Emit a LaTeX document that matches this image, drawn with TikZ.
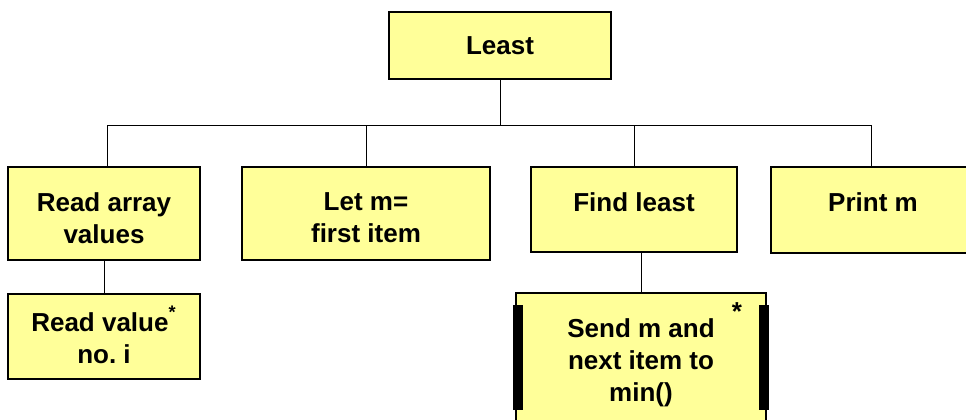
\documentclass[tikz,border=0pt]{standalone}
\usepackage{fontspec}
\setmainfont{Liberation Sans}
\usetikzlibrary{positioning}

\begin{document}
\begin{tikzpicture}[
  x=0.5pt, y=-0.5pt,
  font=\fontsize{13}{16}\selectfont\bfseries,
  box/.style={draw, line width=1pt, fill={rgb,255:red,255;green,255;blue,153}, inner sep=0pt},
  txt/.style={align=center, inner sep=0pt},
  wire/.style={line width=0.5pt},
]
\useasboundingbox (0,0) rectangle (966,419);
\clip (0,0) rectangle (966,419);

\node[box, minimum width=111pt, minimum height=33.5pt] (least) at (500,45.5) {};
\node[txt, below=12.5pt of least.north] (least-t) {Least};

\node[box, minimum width=96pt, minimum height=46.5pt] (read) at (104,213.5) {};
\node[txt, below=13pt of read.north] (read-t) {Read array\\values};
\node[box, minimum width=124pt, minimum height=46.5pt] (letm) at (366,213.5) {};
\node[txt, below=13pt of letm.north] (letm-t) {Let m=\\first item};
\node[box, minimum width=103pt, minimum height=42.5pt] (find) at (634,209.5) {};
\node[txt, below=13pt of find.north] (find-t) {Find least};
\node[box, minimum width=102pt, minimum height=43pt] (print) at (873,210) {};
\node[txt, below=13pt of print.north] (print-t) {Print m};

\node[box, minimum width=96pt, minimum height=42.5pt] (readval) at (104,336.5) {};
\node[txt, below=6.5pt of readval.north] (readval-t) {Read value\textsuperscript{\raisebox{2pt}{*}}\\no.\ i};
\node[box, minimum width=125pt, minimum height=68.5pt] (send) at (641,361.5) {};
\node[txt, below=13pt of send.north] (send-t) {Send m and\\next item to\\min()};
\node[txt] (send-star) at ([shift={(-30,20)}]send.north east) {*};
% side bars
\fill (send.north west) ++(-2,13) rectangle ++(10,105);
\fill (send.north east) ++(-8,13) rectangle ++(10,105);

\coordinate (busL) at (107,125);
\coordinate (busR) at (871,125);
\draw[wire] (least.south) -- (least.south |- busL);
\draw[wire] (busL) -- (busR);
\draw[wire] (busL) -- (busL |- read.north);
\draw[wire] (letm.north) -- (letm.north |- busL);
\draw[wire] (find.north) -- (find.north |- busL);
\draw[wire] (busR) -- (busR |- print.north);
\draw[wire] (read.south) -- (readval.north);
\draw[wire] (send.north) -- (send.north |- find.south);
\end{tikzpicture}
\end{document}
